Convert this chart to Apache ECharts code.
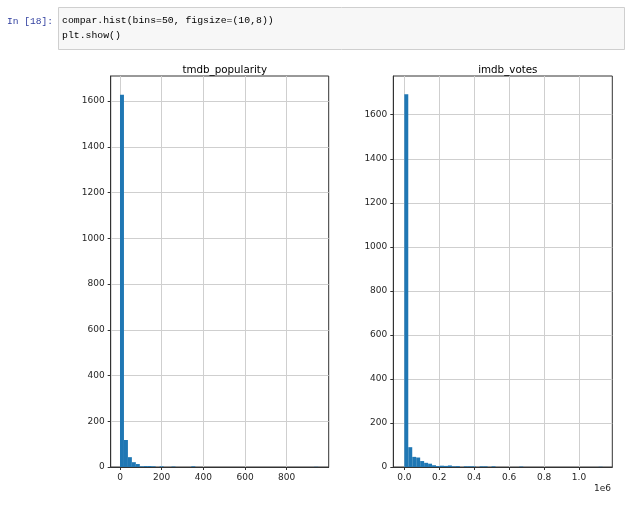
<!DOCTYPE html>
<html>
<head>
<meta charset="utf-8">
<script src="https://cdn.jsdelivr.net/npm/echarts@6/dist/echarts.min.js"></script>
<style>
  html, body { margin: 0; padding: 0; background: #ffffff; }
  #chart { width: 626px; height: 505px; }
</style>
</head>
<body>
<div id="chart"></div>
<script>
// ---- Data (50 bins each) ----
const panelTitles = ['tmdb_popularity', 'imdb_votes'];

const popRange = [0, 951];          // data min / max of tmdb_popularity
const popCounts = [
  1628, 118, 43, 21, 13, 3, 4, 4, 3, 0,
  3, 0, 0, 2, 0, 0, 0, 0, 3, 0,
  0, 0, 0, 0, 0, 0, 0, 0, 0, 0,
  0, 0, 0, 0, 0, 0, 0, 0, 0, 0,
  0, 0, 0, 0, 0, 0, 0, 0, 0, 1
];

const votesRange = [0, 1135000];    // data min / max of imdb_votes
const votesCounts = [
  1693, 90, 46, 43, 27, 19, 15, 8, 4, 6,
  5, 7, 3, 4, 0, 3, 3, 3, 0, 3,
  3, 0, 3, 0, 0, 0, 0, 0, 0, 2,
  0, 0, 0, 0, 0, 0, 0, 0, 0, 0,
  0, 0, 0, 0, 0, 0, 0, 0, 0, 1
];

const popXTicks = [0, 200, 400, 600, 800];
const votesXTicks = [0, 200000, 400000, 600000, 800000, 1000000];
const popYTicks = [0, 200, 400, 600, 800, 1000, 1200, 1400, 1600];
const votesYTicks = [0, 200, 400, 600, 800, 1000, 1200, 1400, 1600];

// ---- Build histogram bins [lo, hi, count] ----
function toBins(range, counts) {
  const w = (range[1] - range[0]) / counts.length;
  return counts.map((c, i) => [range[0] + i * w, range[0] + (i + 1) * w, c]);
}
const popBins = toBins(popRange, popCounts);
const votesBins = toBins(votesRange, votesCounts);

const chart = echarts.init(document.getElementById('chart'), null, { renderer: 'canvas' });

const tickFont = { fontFamily: 'DejaVu Sans', fontSize: 9, color: '#262626' };
const spineColor = '#333333';
const gridColor = '#cfcfcf';

function xAxisCfg(gi, min, max, ticks, fmt) {
  return {
    type: 'value', gridIndex: gi, min: min, max: max,
    axisLine: { show: true, onZero: false, lineStyle: { color: spineColor, width: 1 } },
    axisTick: { show: true, customValues: ticks, length: 3, lineStyle: { color: spineColor, width: 1 } },
    axisLabel: Object.assign({ customValues: ticks, margin: 6, formatter: fmt }, tickFont),
    splitLine: { show: true, lineStyle: { color: gridColor, width: 1 } }
  };
}
function yAxisCfg(gi, max, ticks) {
  return {
    type: 'value', gridIndex: gi, min: 0, max: max,
    axisLine: { show: true, onZero: false, lineStyle: { color: spineColor, width: 1 } },
    axisTick: { show: true, customValues: ticks, length: 3, lineStyle: { color: spineColor, width: 1 } },
    axisLabel: Object.assign({ customValues: ticks, margin: 6, formatter: v => String(v) }, tickFont),
    splitLine: { show: true, lineStyle: { color: gridColor, width: 1 } }
  };
}

function renderBar(params, api) {
  const c = api.value(2);
  if (!c) return null;
  const p0 = api.coord([api.value(0), c]);
  const p1 = api.coord([api.value(1), 0]);
  return {
    type: 'rect',
    shape: { x: p0[0], y: p0[1], width: p1[0] - p0[0], height: p1[1] - p0[1] },
    style: { fill: '#1f77b4' }
  };
}

const codeRich = {
  k: { fontFamily: 'Liberation Mono', fontSize: 9.8, color: '#000000' },
  o: { fontFamily: 'Liberation Mono', fontSize: 9.8, color: '#AA22FF' },
  n: { fontFamily: 'Liberation Mono', fontSize: 9.8, color: '#008000' }
};

const option = {
  backgroundColor: '#ffffff',
  animation: false,
  title: [
    { text: panelTitles[0], left: 219.7, top: 60, textAlign: 'center',
      textStyle: { fontFamily: 'DejaVu Sans', fontSize: 10.3, fontWeight: 'normal', color: '#000' } },
    { text: panelTitles[1], left: 502.8, top: 60, textAlign: 'center',
      textStyle: { fontFamily: 'DejaVu Sans', fontSize: 10.3, fontWeight: 'normal', color: '#000' } }
  ],
  grid: [
    { left: 110.7, top: 76, width: 218, height: 391, show: true, borderColor: spineColor, borderWidth: 1, backgroundColor: 'transparent' },
    { left: 393.3, top: 76, width: 219, height: 391, show: true, borderColor: spineColor, borderWidth: 1, backgroundColor: 'transparent' }
  ],
  xAxis: [
    xAxisCfg(0, -44.6, 1001.6, popXTicks, v => String(v)),
    xAxisCfg(1, -63000, 1190600, votesXTicks, v => (v / 1e6).toFixed(1))
  ],
  yAxis: [
    yAxisCfg(0, 1710, popYTicks),
    yAxisCfg(1, 1776, votesYTicks)
  ],
  series: [
    { type: 'custom', xAxisIndex: 0, yAxisIndex: 0, data: popBins,
      encode: { x: [0, 1], y: 2 }, renderItem: renderBar, silent: true, clip: true },
    { type: 'custom', xAxisIndex: 1, yAxisIndex: 1, data: votesBins,
      encode: { x: [0, 1], y: 2 }, renderItem: renderBar, silent: true, clip: true }
  ],
  graphic: [
    { type: 'rect', left: 58, top: 7, shape: { width: 566, height: 42 },
      style: { fill: '#f7f7f7', stroke: '#cfcfcf', lineWidth: 1 } },
    { type: 'text', left: 7, top: 16,
      style: { text: 'In [18]:', fontFamily: 'Liberation Mono', fontSize: 9.6, fill: '#303F9F' } },
    { type: 'text', left: 62, top: 15,
      style: { text: '{k|compar.hist(bins}{o|=}{n|50}{k|, figsize}{o|=}{k|(}{n|10}{k|,}{n|8}{k|))}', rich: codeRich } },
    { type: 'text', left: 62, top: 30,
      style: { text: '{k|plt.show()}', rich: codeRich } },
    { type: 'text', right: 15, top: 484,
      style: { text: '1e6', fontFamily: 'DejaVu Sans', fontSize: 9, fill: '#262626' } }
  ]
};

chart.setOption(option);
</script>
</body>
</html>
